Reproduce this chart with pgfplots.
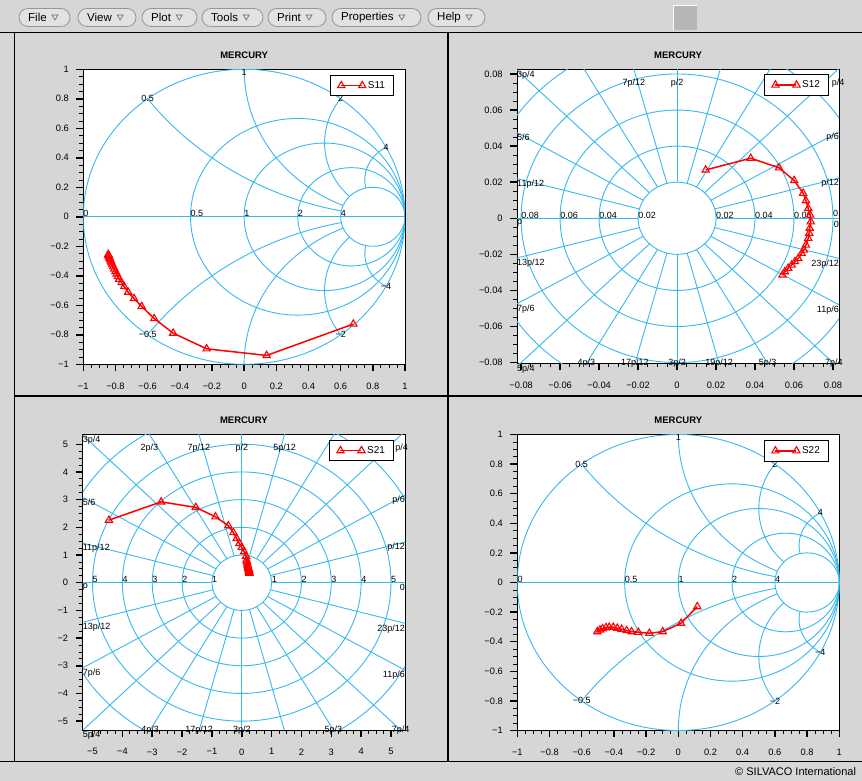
\documentclass[border=0pt]{standalone}
\usepackage{fontspec}
\setmainfont{Liberation Sans}
\usepackage{pgfplots}
\pgfplotsset{compat=1.18}

\definecolor{gridblue}{RGB}{55,185,240}
\definecolor{bggray}{RGB}{214,214,214}
\definecolor{btnborder}{RGB}{150,150,150}
\definecolor{sqgray}{RGB}{182,182,182}

\newcommand{\labfont}{\fontsize{9}{10}\selectfont}
\newcommand{\tickfont}{\fontsize{9.3}{10}\selectfont}

\tikzset{
  gl/.style={draw=gridblue, line width=0.9pt},
  lb/.style={font=\labfont, inner sep=0pt, text=black},
  lbl/.style={lb, anchor=north west, yshift=-1pt},
  lbr/.style={lb, anchor=north east, yshift=-1pt},
  lbt/.style={lb, anchor=north, yshift=-9pt},
  lbb/.style={lb, anchor=center},
}

\pgfplotsset{
  every axis title/.style={at={(0.5,1)}, anchor=base, yshift=10.5pt, font=\bfseries\fontsize{9.5}{11}\selectfont},
  legend image code/.code={\draw[mark repeat=1,mark phase=1,#1] plot coordinates {(0pt,0pt) (21pt,0pt)};},
  panel/.style={
    scale only axis, anchor=south west, disabledatascaling, clip=false,
    scaled ticks=false,
    axis background/.style={fill=white},
    axis line style={line width=0.8pt, black},
    tick align=outside, xtick pos=left, ytick pos=left,
    minor tick num=3,
    major tick length=7pt, minor tick length=4pt,
    major tick style={line width=1.5pt, black},
    minor tick style={line width=0.8pt, black},
    tick label style={font=\tickfont},
    xticklabel style={yshift=-8pt},
    yticklabel style={xshift=-4pt},
    title={MERCURY},
    legend cell align=left,
    legend style={anchor=north east, draw=black, line width=0.9pt, fill=white,
      font=\fontsize{10}{11}\selectfont, inner xsep=7pt, inner ysep=4pt},
  },
  sdata/.style={color=red, line width=1.5pt, mark=triangle, mark size=4.2pt,
    mark options={solid, line width=1.1pt, fill=none}},
}

\newcommand{\smithgrid}{%
  \begin{scope}
    \clip (rel axis cs:0,0) rectangle (rel axis cs:1,1);
    \begin{scope}
      \clip (axis cs:0,0) circle[radius=1];
      \draw[gl] (axis cs:1,2) circle[radius=2];
      \draw[gl] (axis cs:1,-2) circle[radius=2];
      \draw[gl] (axis cs:1,1) circle[radius=1];
      \draw[gl] (axis cs:1,-1) circle[radius=1];
      \draw[gl] (axis cs:1,0.5) circle[radius=0.5];
      \draw[gl] (axis cs:1,-0.5) circle[radius=0.5];
      \draw[gl] (axis cs:1,0.25) circle[radius=0.25];
      \draw[gl] (axis cs:1,-0.25) circle[radius=0.25];
    \end{scope}
    \fill[white] (axis cs:0.8,0) circle[radius=0.2];
    \draw[gl] (axis cs:-1,0) -- (axis cs:1,0);
    \draw[gl] (axis cs:0,0) circle[radius=1];
    \draw[gl] (axis cs:0.33333,0) circle[radius=0.66667];
    \draw[gl] (axis cs:0.5,0) circle[radius=0.5];
    \draw[gl] (axis cs:0.66667,0) circle[radius=0.33333];
    \draw[gl] (axis cs:0.8,0) circle[radius=0.2];
    \node[lb, anchor=base west] at (axis cs:-1,0) {0};
    \node[lb, anchor=base west] at (axis cs:-0.3333,0) {0.5};
    \node[lb, anchor=base west] at (axis cs:0,0) {1};
    \node[lb, anchor=base west] at (axis cs:0.3333,0) {2};
    \node[lb, anchor=base west] at (axis cs:0.6,0) {4};
    \node[lb] at (axis cs:-0.6,0.8) {0.5};
    \node[lb, anchor=north] at (axis cs:0,1) {1};
    \node[lb] at (axis cs:0.6,0.8) {2};
    \node[lb] at (axis cs:0.882,0.471) {4};
    \node[lb] at (axis cs:-0.6,-0.8) {−0.5};
    \node[lb] at (axis cs:0.6,-0.8) {−2};
    \node[lb] at (axis cs:0.882,-0.471) {−4};
  \end{scope}
}

% #1 inner radius, #2 radial end, #3 circle radii
\newcommand{\polargrid}[3]{%
  \pgfplotsinvokeforeach{#3}{\draw[gl] (axis cs:0,0) circle[radius=##1];}
  \pgfplotsinvokeforeach{0,15,30,45,60,75,90,105,120,135,150,165,180,195,210,225,240,255,270,285,300,315,330,345}{%
    \draw[gl] (axis cs:{#1*cos(##1)},{#1*sin(##1)}) -- (axis cs:{#2*cos(##1)},{#2*sin(##1)});}
}

\newcommand{\button}[3]{%
  \draw[btnborder, line width=0.8pt, fill=bggray!70!white, rounded corners=9pt] (#1pt,754.5pt) rectangle (#2pt,772.5pt);
  \node[anchor=west, inner sep=0pt, font=\fontsize{11.5}{12}\selectfont] (b) at ({#1pt+9pt},763.5pt) {#3};
  \draw[black!60, line width=0.6pt] ([xshift=5pt,yshift=2.5pt]b.east) -- ++(6pt,0pt) -- ++(-3pt,-5pt) -- cycle;
}

\begin{document}
\begin{tikzpicture}
\fill[bggray] (0pt,0pt) rectangle (862pt,781pt);

% toolbar
\button{19}{70}{File}
\button{78}{136}{View}
\button{142}{197}{Plot}
\button{202}{263}{Tools}
\button{268}{326}{Print}
\button{332}{421}{Properties}
\button{428}{485}{Help}
\fill[sqgray] (673pt,751pt) rectangle (697pt,776pt);
\draw[white, line width=0.8pt] (673pt,751pt) -- (673pt,776pt) -- (697pt,776pt);

% separators
\draw[black, line width=1.5pt] (0pt,748.5pt) -- (862pt,748.5pt);
\draw[black, line width=1pt] (14pt,748.5pt) -- (14pt,19.5pt);
\draw[black, line width=2pt] (448pt,748.5pt) -- (448pt,19.5pt);
\draw[black, line width=2pt] (14pt,384.5pt) -- (862pt,384.5pt);
\draw[black, line width=1.5pt] (0pt,19.5pt) -- (862pt,19.5pt);

% ---------- S11 ----------
\begin{axis}[panel, at={(83.3pt,416.7pt)}, width=321.7pt, height=295pt,
  xmin=-1, xmax=1, ymin=-1, ymax=1,
  xtick={-1,-0.8,-0.6,-0.4,-0.2,0,0.2,0.4,0.6,0.8,1},
  xticklabels={−1,−0.8,−0.6,−0.4,−0.2,0,0.2,0.4,0.6,0.8,1},
  ytick={-1,-0.8,-0.6,-0.4,-0.2,0,0.2,0.4,0.6,0.8,1},
  yticklabels={−1,−0.8,−0.6,−0.4,−0.2,0,0.2,0.4,0.6,0.8,1},
  legend style={at={(0.967,0.981)}}]
\smithgrid
\addplot[sdata] coordinates {
(-0.845,-0.255) (-0.843,-0.262) (-0.840,-0.270) (-0.837,-0.279) (-0.833,-0.289)
(-0.829,-0.300) (-0.825,-0.312) (-0.820,-0.325) (-0.814,-0.339) (-0.807,-0.354)
(-0.800,-0.370) (-0.792,-0.387) (-0.785,-0.405) (-0.777,-0.424) (-0.762,-0.446)
(-0.746,-0.473) (-0.721,-0.511) (-0.685,-0.554) (-0.637,-0.608) (-0.559,-0.690)
(-0.441,-0.789) (-0.233,-0.895) (0.140,-0.940) (0.679,-0.727)};
\addlegendentry{S11}
\end{axis}

% ---------- S12 ----------
\begin{axis}[panel, at={(517pt,417.5pt)}, width=322pt, height=294.2pt,
  xmin=-0.0821, xmax=0.0831, ymin=-0.0805, ymax=0.0826,
  xtick={-0.08,-0.06,-0.04,-0.02,0,0.02,0.04,0.06,0.08},
  xticklabels={−0.08,−0.06,−0.04,−0.02,0,0.02,0.04,0.06,0.08},
  ytick={-0.08,-0.06,-0.04,-0.02,0,0.02,0.04,0.06,0.08},
  yticklabels={−0.08,−0.06,−0.04,−0.02,0,0.02,0.04,0.06,0.08},
  legend style={at={(0.970,0.983)}}]
\begin{scope}
  \clip (rel axis cs:0,0) rectangle (rel axis cs:1,1);
  \polargrid{0.02}{0.2}{0.02,0.04,0.06,0.08,0.1}
  \node[lb, anchor=base west] at (axis cs:-0.08,0) {0.08};
  \node[lb, anchor=base west] at (axis cs:-0.06,0) {0.06};
  \node[lb, anchor=base west] at (axis cs:-0.04,0) {0.04};
  \node[lb, anchor=base west] at (axis cs:-0.02,0) {0.02};
  \node[lb, anchor=base west] at (axis cs:0.02,0) {0.02};
  \node[lb, anchor=base west] at (axis cs:0.04,0) {0.04};
  \node[lb, anchor=base west] at (axis cs:0.06,0) {0.06};
  \node[lb, anchor=base west] at (axis cs:0.08,0.001) {0.08};
\end{scope}
\node[lbl] at (axis cs:-0.0821,0.0821) {3p/4};
\node[lbl] at (axis cs:-0.0821,0.0474) {5/6};
\node[lbl] at (axis cs:-0.0821,0.0220) {11p/12};
\node[lbl] at (axis cs:-0.0821,0) {p};
\node[lbl] at (axis cs:-0.0821,-0.0220) {13p/12};
\node[lbl] at (axis cs:-0.0821,-0.0474) {7p/6};
\node[lbl] at (axis cs:-0.0821,-0.0805) {5p/4};
\node[lbr] at (axis cs:0.0831,0.0223) {p/12};
\node[lbr] at (axis cs:0.0831,0.0480) {p/6};
\node[lbr] at (axis cs:0.0831,-0.001) {0};
\node[lbr] at (axis cs:0.0831,-0.0223) {23p/12};
\node[lbr] at (axis cs:0.0831,-0.0480) {11p/6};
\node[lbt] at (axis cs:0.0826,0.0826) {p/4};
\node[lbt] at (axis cs:-0.0221,0.0826) {7p/12};
\node[lbt] at (axis cs:0,0.0826) {p/2};
\node[lbb] at (axis cs:-0.0465,-0.0805) {4p/3};
\node[lbb] at (axis cs:-0.0216,-0.0805) {17p/12};
\node[lbb] at (axis cs:0,-0.0805) {3p/2};
\node[lbb] at (axis cs:0.0216,-0.0805) {19p/12};
\node[lbb] at (axis cs:0.0465,-0.0805) {5p/3};
\node[lbb] at (axis cs:0.0805,-0.0805) {7p/4};
\addplot[sdata] coordinates {
(0.0541,-0.0314) (0.0553,-0.0296) (0.0570,-0.0277) (0.0588,-0.0259) (0.0605,-0.0240)
(0.0622,-0.0222) (0.0639,-0.0194) (0.0651,-0.0176) (0.0661,-0.0148) (0.0673,-0.0111)
(0.0678,-0.0083) (0.0681,-0.0055) (0.0686,-0.0019) (0.0683,0.0018) (0.0673,0.0055)
(0.0661,0.0098) (0.0647,0.0139) (0.0601,0.0209) (0.0523,0.0280) (0.0378,0.0333)
(0.0147,0.0268)};
\addlegendentry{S12}
\end{axis}

% ---------- S21 ----------
\begin{axis}[panel, at={(82.7pt,51pt)}, width=322.3pt, height=295.7pt,
  xmin=-5.33, xmax=5.47, ymin=-5.32, ymax=5.36,
  xtick={-5,-4,-3,-2,-1,0,1,2,3,4,5},
  xticklabels={−5,−4,−3,−2,−1,0,1,2,3,4,5},
  ytick={-5,-4,-3,-2,-1,0,1,2,3,4,5},
  yticklabels={−5,−4,−3,−2,−1,0,1,2,3,4,5},
  legend style={at={(0.967,0.981)}}]
\begin{scope}
  \clip (rel axis cs:0,0) rectangle (rel axis cs:1,1);
  \polargrid{1}{12}{1,2,3,4,5,6.25}
  \node[lb, anchor=base west] at (axis cs:-5,0) {5};
  \node[lb, anchor=base west] at (axis cs:-4,0) {4};
  \node[lb, anchor=base west] at (axis cs:-3,0) {3};
  \node[lb, anchor=base west] at (axis cs:-2,0) {2};
  \node[lb, anchor=base west] at (axis cs:-1,0) {1};
  \node[lb, anchor=base west] at (axis cs:1,0) {1};
  \node[lb, anchor=base west] at (axis cs:2,0) {2};
  \node[lb, anchor=base west] at (axis cs:3,0) {3};
  \node[lb, anchor=base west] at (axis cs:4,0) {4};
  \node[lb, anchor=base west] at (axis cs:5,0) {5};
\end{scope}
\node[lbl] at (axis cs:-5.33,5.33) {3p/4};
\node[lbl] at (axis cs:-5.33,3.077) {5/6};
\node[lbl] at (axis cs:-5.33,1.428) {11p/12};
\node[lbl] at (axis cs:-5.33,0) {p};
\node[lbl] at (axis cs:-5.33,-1.428) {13p/12};
\node[lbl] at (axis cs:-5.33,-3.077) {7p/6};
\node[lbl] at (axis cs:-5.33,-5.32) {5p/4};
\node[lbr] at (axis cs:5.47,1.466) {p/12};
\node[lbr] at (axis cs:5.47,3.158) {p/6};
\node[lbr] at (axis cs:5.47,0) {0};
\node[lbr] at (axis cs:5.47,-1.466) {23p/12};
\node[lbr] at (axis cs:5.47,-3.158) {11p/6};
\node[lbt] at (axis cs:5.36,5.36) {p/4};
\node[lbt] at (axis cs:1.436,5.36) {5p/12};
\node[lbt] at (axis cs:0,5.36) {p/2};
\node[lbt] at (axis cs:-1.436,5.36) {7p/12};
\node[lbt] at (axis cs:-3.095,5.36) {2p/3};
\node[lbb] at (axis cs:-3.072,-5.32) {4p/3};
\node[lbb] at (axis cs:-1.425,-5.32) {17p/12};
\node[lbb] at (axis cs:0,-5.32) {3p/2};
\node[lbb] at (axis cs:3.072,-5.32) {5p/3};
\node[lbb] at (axis cs:5.32,-5.32) {7p/4};
\addplot[sdata] coordinates {
(0.255,0.34) (0.25,0.37) (0.245,0.40) (0.24,0.44) (0.235,0.48) (0.22,0.52)
(0.21,0.57) (0.20,0.62) (0.19,0.675) (0.175,0.75) (0.16,0.82) (0.144,0.96)
(0.077,1.12) (0.0,1.28) (-0.08,1.42) (-0.17,1.60) (-0.28,1.81) (-0.45,2.06)
(-0.88,2.38) (-1.54,2.72) (-2.70,2.92) (-4.45,2.26)};
\addlegendentry{S21}
\end{axis}

% ---------- S22 ----------
\begin{axis}[panel, at={(517.3pt,50.5pt)}, width=322pt, height=296pt,
  xmin=-1, xmax=1, ymin=-1, ymax=1,
  xtick={-1,-0.8,-0.6,-0.4,-0.2,0,0.2,0.4,0.6,0.8,1},
  xticklabels={−1,−0.8,−0.6,−0.4,−0.2,0,0.2,0.4,0.6,0.8,1},
  ytick={-1,-0.8,-0.6,-0.4,-0.2,0,0.2,0.4,0.6,0.8,1},
  yticklabels={−1,−0.8,−0.6,−0.4,−0.2,0,0.2,0.4,0.6,0.8,1},
  legend style={at={(0.969,0.981)}}]
\smithgrid
\addplot[sdata] coordinates {
(-0.503,-0.332) (-0.486,-0.320) (-0.470,-0.312) (-0.449,-0.305) (-0.429,-0.302)
(-0.404,-0.302) (-0.379,-0.309) (-0.352,-0.316) (-0.321,-0.325) (-0.290,-0.332)
(-0.248,-0.336) (-0.180,-0.343) (-0.097,-0.332) (0.017,-0.275) (0.118,-0.163)};
\addlegendentry{S22}
\end{axis}

% status bar text
\begin{scope}
  \clip (0pt,0pt) rectangle (862pt,781pt);
  \node[anchor=west, inner sep=0pt, font=\fontsize{11}{12}\selectfont] at (735pt,9pt) {© SILVACO International};
\end{scope}

\pgfresetboundingbox
\path[use as bounding box] (0pt,0pt) rectangle (862pt,781pt);
\end{tikzpicture}
\end{document}
